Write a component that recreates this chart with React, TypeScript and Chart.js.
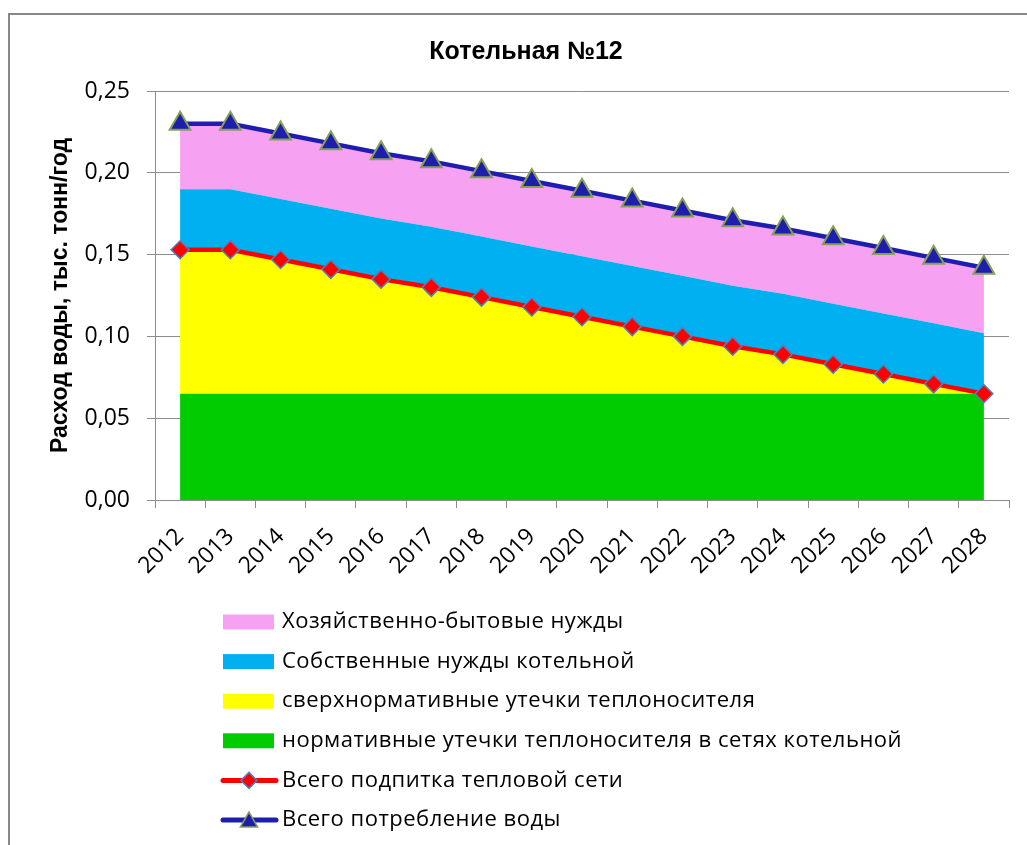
import React, { useEffect, useRef } from 'react';
import { Chart, registerables } from 'chart.js';

Chart.register(...registerables);

const years = ['2012', '2013', '2014', '2015', '2016', '2017', '2018', '2019', '2020', '2021', '2022', '2023', '2024', '2025', '2026', '2027', '2028'];

// stacked components (тыс. тонн/год)
const normativeLeaks = [0.065, 0.065, 0.065, 0.065, 0.065, 0.065, 0.065, 0.065, 0.065, 0.065, 0.065, 0.065, 0.065, 0.065, 0.065, 0.065, 0.065];
const excessLeaks = [0.088, 0.088, 0.082, 0.076, 0.070, 0.065, 0.059, 0.053, 0.047, 0.041, 0.035, 0.029, 0.024, 0.018, 0.012, 0.006, 0.000];
const ownNeeds = [0.037, 0.037, 0.037, 0.037, 0.037, 0.037, 0.037, 0.037, 0.037, 0.037, 0.037, 0.037, 0.037, 0.037, 0.037, 0.037, 0.037];
const householdNeeds = [0.040, 0.040, 0.040, 0.040, 0.040, 0.040, 0.040, 0.040, 0.040, 0.040, 0.040, 0.040, 0.040, 0.040, 0.040, 0.040, 0.040];

// totals (lines)
const totalMakeup = [0.153, 0.153, 0.147, 0.141, 0.135, 0.130, 0.124, 0.118, 0.112, 0.106, 0.100, 0.094, 0.089, 0.083, 0.077, 0.071, 0.065];
const totalConsumption = [0.230, 0.230, 0.224, 0.218, 0.212, 0.207, 0.201, 0.195, 0.189, 0.183, 0.177, 0.171, 0.166, 0.160, 0.154, 0.148, 0.142];

const yMin = 0;
const yMax = 0.25;
const yStep = 0.05;

const chartTitle = 'Котельная №12';
const yTitle = 'Расход воды, тыс. тонн/год';

const labelHousehold = 'Хозяйственно-бытовые нужды';
const labelOwn = 'Собственные нужды котельной';
const labelExcess = 'сверхнормативные утечки теплоносителя';
const labelNormative = 'нормативные утечки теплоносителя в сетях котельной';
const labelMakeup = 'Всего подпитка тепловой сети';
const labelConsumption = 'Всего потребление воды';

const PINK = '#F7A1F3';
const CYAN = '#00B0F0';
const YELLOW = '#FFFF00';
const GREEN = '#00CC00';
const RED = '#FF0000';
const NAVY = '#1E1EAE';
const OLIVE = '#86A055';
const STEEL = '#4F81BD';
const GRID = '#8C8C8C';
const FONT = '"Open Sans", "Noto Sans", sans-serif';
const FONT_B = '"Liberation Sans", Arial, sans-serif';

const legendOrder = [labelHousehold, labelOwn, labelExcess, labelNormative, labelMakeup, labelConsumption];

function drawTriangle(ctx: CanvasRenderingContext2D, x: number, y: number, r: number) {
  ctx.beginPath();
  ctx.moveTo(x, y - r);
  ctx.lineTo(x + r * Math.sin(Math.PI / 3), y + r / 2);
  ctx.lineTo(x - r * Math.sin(Math.PI / 3), y + r / 2);
  ctx.closePath();
}

function drawDiamond(ctx: CanvasRenderingContext2D, x: number, y: number, r: number) {
  ctx.beginPath();
  ctx.moveTo(x - r, y);
  ctx.lineTo(x, y - r);
  ctx.lineTo(x + r, y);
  ctx.lineTo(x, y + r);
  ctx.closePath();
}

const legendPlugin = {
  id: 'customLegend',
  afterDraw(chart: any) {
    const ctx: any = chart.ctx;
    const x0 = 223;
    const y0 = 622;
    const gap = 39.6;
    ctx.save();
    legendOrder.forEach((lbl, i) => {
      const ds = chart.data.datasets.find((d: any) => d.label === lbl);
      if (!ds) return;
      const y = y0 + i * gap;
      if (ds.fill) {
        ctx.fillStyle = ds.backgroundColor;
        ctx.fillRect(x0, y - 7.5, 51, 15);
      } else {
        ctx.strokeStyle = ds.borderColor;
        ctx.lineWidth = 5;
        ctx.lineCap = 'round';
        ctx.beginPath();
        ctx.moveTo(x0, y);
        ctx.lineTo(x0 + 53, y);
        ctx.stroke();
        ctx.fillStyle = ds.pointBackgroundColor;
        ctx.strokeStyle = ds.pointBorderColor;
        ctx.lineWidth = 1.5;
        if (ds.pointStyle === 'triangle') drawTriangle(ctx, x0 + 26, y + 2, 10);
        else drawDiamond(ctx, x0 + 26, y, 8);
        ctx.fill();
        ctx.stroke();
      }
      ctx.fillStyle = '#000';
      ctx.font = `22px ${FONT}`;
      ctx.letterSpacing = '0.5px';
      ctx.textBaseline = 'middle';
      ctx.textAlign = 'left';
      ctx.fillText(lbl, 282, y);
      ctx.letterSpacing = '0px';
    });
    ctx.restore();
  },
};

export default function App() {
  const canvasRef = useRef<HTMLCanvasElement | null>(null);

  useEffect(() => {
    if (!canvasRef.current) return;
    const chart = new Chart(canvasRef.current, {
      type: 'line',
      data: {
        labels: years,
        datasets: [
          {
            label: labelNormative,
            data: normativeLeaks,
            stack: 'areas',
            fill: 'origin',
            backgroundColor: GREEN,
            borderWidth: 0,
            pointRadius: 0,
            order: 4,
          },
          {
            label: labelExcess,
            data: excessLeaks,
            stack: 'areas',
            fill: '-1',
            backgroundColor: YELLOW,
            borderWidth: 0,
            pointRadius: 0,
            order: 5,
          },
          {
            label: labelOwn,
            data: ownNeeds,
            stack: 'areas',
            fill: '-1',
            backgroundColor: CYAN,
            borderWidth: 0,
            pointRadius: 0,
            order: 6,
          },
          {
            label: labelHousehold,
            data: householdNeeds,
            stack: 'areas',
            fill: '-1',
            backgroundColor: PINK,
            borderWidth: 0,
            pointRadius: 0,
            order: 7,
          },
          {
            label: labelMakeup,
            data: totalMakeup,
            stack: 'makeup',
            fill: false,
            borderColor: RED,
            borderWidth: 4.5,
            pointStyle: 'rectRot',
            pointRadius: 9,
            pointBackgroundColor: RED,
            pointBorderColor: STEEL,
            pointBorderWidth: 1.5,
            order: 2,
          },
          {
            label: labelConsumption,
            data: totalConsumption,
            stack: 'consumption',
            fill: false,
            borderColor: NAVY,
            borderWidth: 4.5,
            pointStyle: 'triangle',
            pointRadius: 12,
            pointBackgroundColor: NAVY,
            pointBorderColor: OLIVE,
            pointBorderWidth: 2,
            order: 1,
          },
        ] as any,
      },
      options: {
        responsive: false,
        animation: false,
        devicePixelRatio: 1,
        layout: { padding: { left: 43, right: 18, top: 0, bottom: 255 } },
        elements: { line: { tension: 0 } },
        plugins: {
          legend: { display: false },
          tooltip: { enabled: false },
          title: {
            display: true,
            text: chartTitle,
            color: '#000',
            font: { family: FONT_B, size: 25, weight: 'bold', lineHeight: 1.2 },
            padding: { top: 37, bottom: 24 },
          },
        },
        scales: {
          x: {
            offset: true,
            grid: {
              display: true,
              offset: true,
              drawOnChartArea: false,
              drawTicks: true,
              tickLength: 8,
              color: GRID,
            },
            border: { display: true, color: GRID, width: 1 },
            ticks: {
              autoSkip: false,
              minRotation: 45,
              maxRotation: 45,
              color: '#000',
              padding: 15,
              font: { family: FONT, size: 23 },
            },
            afterFit(scale: any) {
              scale.height = 90;
            },
          },
          y: {
            stacked: true,
            min: yMin,
            max: yMax,
            grid: {
              display: true,
              color: GRID,
              tickLength: 8,
              drawTicks: true,
            },
            border: { display: true, color: GRID, width: 1 },
            ticks: {
              stepSize: yStep,
              color: '#000',
              padding: 17,
              font: { family: FONT, size: 23 },
              callback: (v: any) => Number(v).toFixed(2).replace('.', ','),
            },
            title: {
              display: true,
              text: yTitle,
              color: '#000',
              font: { family: FONT_B, size: 23, weight: 'bold' },
              padding: { top: 4, bottom: 0 },
            },
            afterFit(scale: any) {
              scale.width = 112;
            },
          },
        },
      },
      plugins: [legendPlugin],
    });
    return () => chart.destroy();
  }, []);

  return (
    <div style={{ position: 'fixed', left: 0, top: 0, width: 1027, height: 845, overflow: 'hidden', background: '#fff' }}>
      <div
        style={{
          position: 'absolute',
          left: 8,
          top: 13,
          width: 1100,
          height: 900,
          border: '2px solid #888',
          boxSizing: 'border-box',
        }}
      />
      <canvas ref={canvasRef} width={1027} height={845} style={{ position: 'absolute', left: 0, top: 0, width: 1027, height: 845 }} />
    </div>
  );
}
